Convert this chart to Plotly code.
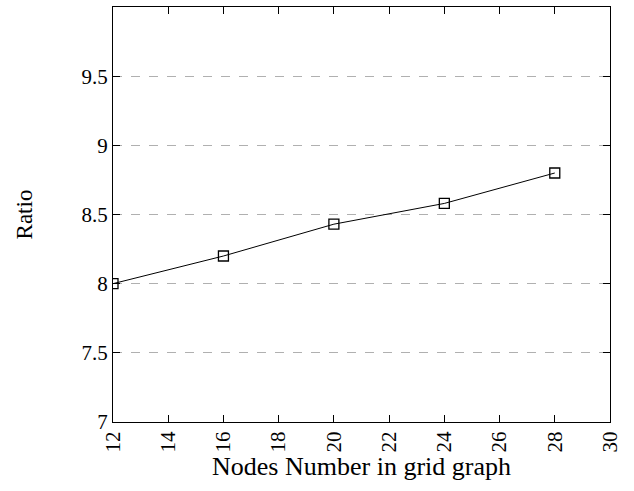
import plotly.graph_objects as go

nodes = [12, 16, 20, 24, 28]
ratio = [8.0, 8.2, 8.43, 8.58, 8.8]
x_ticks = [12, 14, 16, 18, 20, 22, 24, 26, 28, 30]
y_ticks = [7, 7.5, 8, 8.5, 9, 9.5]
y_tick_text = ["7", "7.5", "8", "8.5", "9", "9.5"]

font = "Liberation Serif"

fig = go.Figure()
fig.add_trace(go.Scatter(
    x=nodes, y=ratio, mode="lines+markers",
    line=dict(color="black", width=1),
    marker=dict(symbol="square-open", size=10, color="black", line=dict(width=1.3)),
    showlegend=False,
))

fig.update_layout(
    width=634, height=491,
    margin=dict(l=113, r=24, t=7, b=69),
    paper_bgcolor="white", plot_bgcolor="white",
    font=dict(family=font, color="black", size=21),
)
fig.update_xaxes(
    range=[12, 30], tickvals=x_ticks, tickangle=-90,
    ticks="inside", ticklen=7, tickcolor="black",
    showline=True, linecolor="black", linewidth=1.2, mirror="ticks",
    showgrid=False, zeroline=False, automargin=False,
    title=dict(text="Nodes Number in grid graph", font=dict(size=26), standoff=4),
    tickfont=dict(size=21),
)
fig.update_yaxes(
    range=[7, 10], tickvals=y_ticks, ticktext=y_tick_text,
    ticks="inside", ticklen=7, tickcolor="black",
    showline=True, linecolor="black", linewidth=1.2, mirror="ticks",
    showgrid=True, gridcolor="#b0b0b0", griddash="dash", gridwidth=1,
    zeroline=False, automargin=False,
    title=dict(text="Ratio", font=dict(size=23), standoff=42),
    tickfont=dict(size=21),
)

fig.write_html(
    "out.html",
    config={"displayModeBar": False},
    post_script="document.body.style.margin='0';document.body.style.overflow='hidden';",
)
